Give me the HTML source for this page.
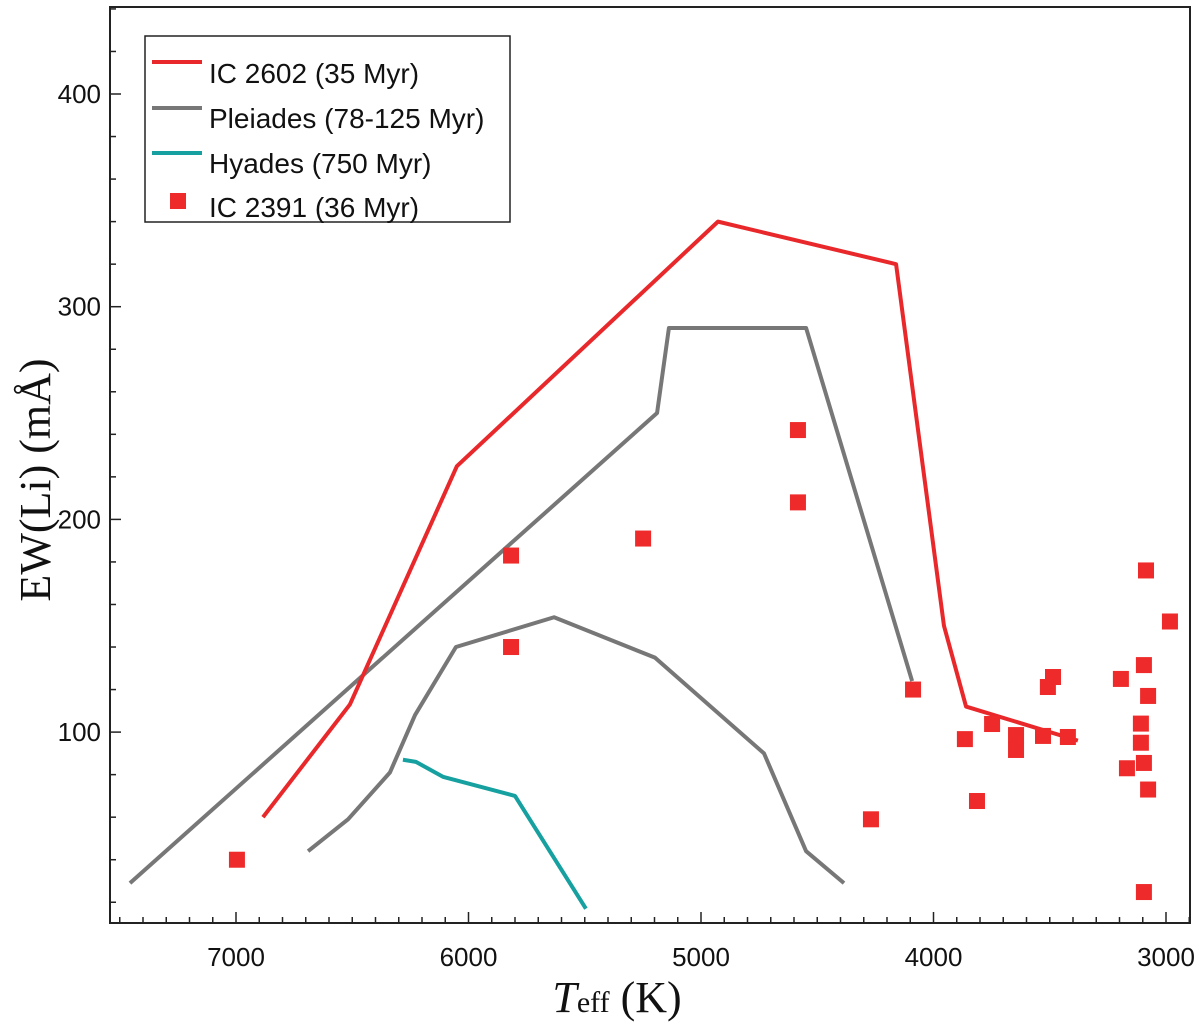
<!DOCTYPE html>
<html><head><meta charset="utf-8"><style>
body{margin:0;background:#fff}
svg{display:block}
.tk{font-family:"Liberation Sans",sans-serif;font-size:26px;fill:#111}
.lg{font-family:"Liberation Sans",sans-serif;font-size:28px;fill:#111}
.ti{font-family:"Liberation Serif",serif;font-size:44px;fill:#111}
</style></head><body>
<svg id="c" width="1200" height="1026">
<g id="marks"></g>
<rect x="110" y="7" width="1080" height="916" fill="none" stroke="#222" stroke-width="2"/>
<g id="axes"></g>
<text class="ti" x="0" y="0" transform="translate(50,480) rotate(-90)" text-anchor="middle">EW(Li) (mÅ)</text>
<text class="ti" x="617" y="1012" text-anchor="middle"><tspan font-style="italic">T</tspan><tspan font-size="30px">eff</tspan> (K)</text>
<g>
<rect x="145" y="36" width="365" height="186" fill="#fff" stroke="#222" stroke-width="1.5"/>
<line x1="152" y1="62" x2="202" y2="62" stroke="#e8282a" stroke-width="4"/>
<text class="lg" x="209" y="83">IC 2602 (35 Myr)</text>
<line x1="152" y1="108" x2="202" y2="108" stroke="#777" stroke-width="4"/>
<text class="lg" x="209" y="128">Pleiades (78-125 Myr)</text>
<line x1="152" y1="153" x2="202" y2="153" stroke="#16a0a0" stroke-width="4"/>
<text class="lg" x="209" y="173">Hyades (750 Myr)</text>
<rect x="170" y="193" width="16" height="16" fill="#ee2a2a"/>
<text class="lg" x="209" y="217">IC 2391 (36 Myr)</text>
</g>
</svg>
<script>
const xTicks=[7000,6000,5000,4000,3000];
const yTicks=[100,200,300,400];
const ic2602T=[6884,6510,6050,4927,4161,3955,3860,3379];
const ic2602V=[60,113,225,340,320,150,112,96];
const pleiadesUpperT=[7456,5189,5138,4548,4092];
const pleiadesUpperV=[29,250,290,290,124];
const pleiadesLowerT=[6690,6518,6338,6230,6054,5632,5198,4729,4548,4385];
const pleiadesLowerV=[44,59,81,108,140,154,135,90,44,29];
const hyadesT=[6282,6226,6110,5800,5495];
const hyadesV=[87,86,79,70,17];
const ic2391T=[6996,5817,5817,5249,4583,4583,4269,4088,3865,3813,3748,3645,3645,3529,3508,3486,3422,3194,3168,3108,3108,3095,3095,3077,3077,3086,2983,3095];
const ic2391V=[40,183,140,191,242,208,59,120,96.7,67.6,103.8,98.6,91.6,98.2,121.2,125.9,97.7,125,83,104,95,131.5,85.5,117,73,176,152,24.8];
const X=t=>236+(7000-t)*0.2325;
const Y=v=>94+(400-v)*2.127;
const NS='http://www.w3.org/2000/svg';
const marks=document.getElementById('marks'),axes=document.getElementById('axes');
function mk(tag,a,p){const e=document.createElementNS(NS,tag);for(const k in a)e.setAttribute(k,a[k]);p.appendChild(e);return e;}
function line(T,V,col,name){
 const e=mk('polyline',{points:T.map((t,i)=>X(t)+','+Y(V[i])).join(' '),fill:'none',stroke:col,'stroke-width':4,'stroke-linejoin':'round'},marks);
 
 
}
line(pleiadesUpperT,pleiadesUpperV,'#777','pleiades-upper-line');
line(pleiadesLowerT,pleiadesLowerV,'#777','pleiades-lower-line');
line(hyadesT,hyadesV,'#16a0a0','hyades-line');
line(ic2602T,ic2602V,'#e8282a','ic2602-line');
ic2391T.forEach((t,i)=>{
 const r=mk('rect',{x:X(t)-8,y:Y(ic2391V[i])-8,width:16,height:16,fill:'#ee2a2a'},marks);
 
 
});
for(let t=7500;t>=2900;t-=100){const x=X(t);if(x<110||x>1190)continue;const major=t%1000===0;
 mk('line',{x1:x,x2:x,y1:923,y2:major?912:917,stroke:'#222','stroke-width':1.5},axes);}
for(let v=20;v<=440;v+=20){const y=Y(v);if(y<7||y>923)continue;const major=v%100===0;
 mk('line',{x1:110,x2:major?121:116,y1:y,y2:y,stroke:'#222','stroke-width':1.5},axes);}
xTicks.forEach(t=>{const e=mk('text',{x:X(t),y:966,'text-anchor':'middle',class:'tk'},axes);e.textContent=t;
 
 });
yTicks.forEach(v=>{const e=mk('text',{x:101,y:Y(v)+9,'text-anchor':'end',class:'tk'},axes);e.textContent=v;
 
 });
</script>
</body></html>
